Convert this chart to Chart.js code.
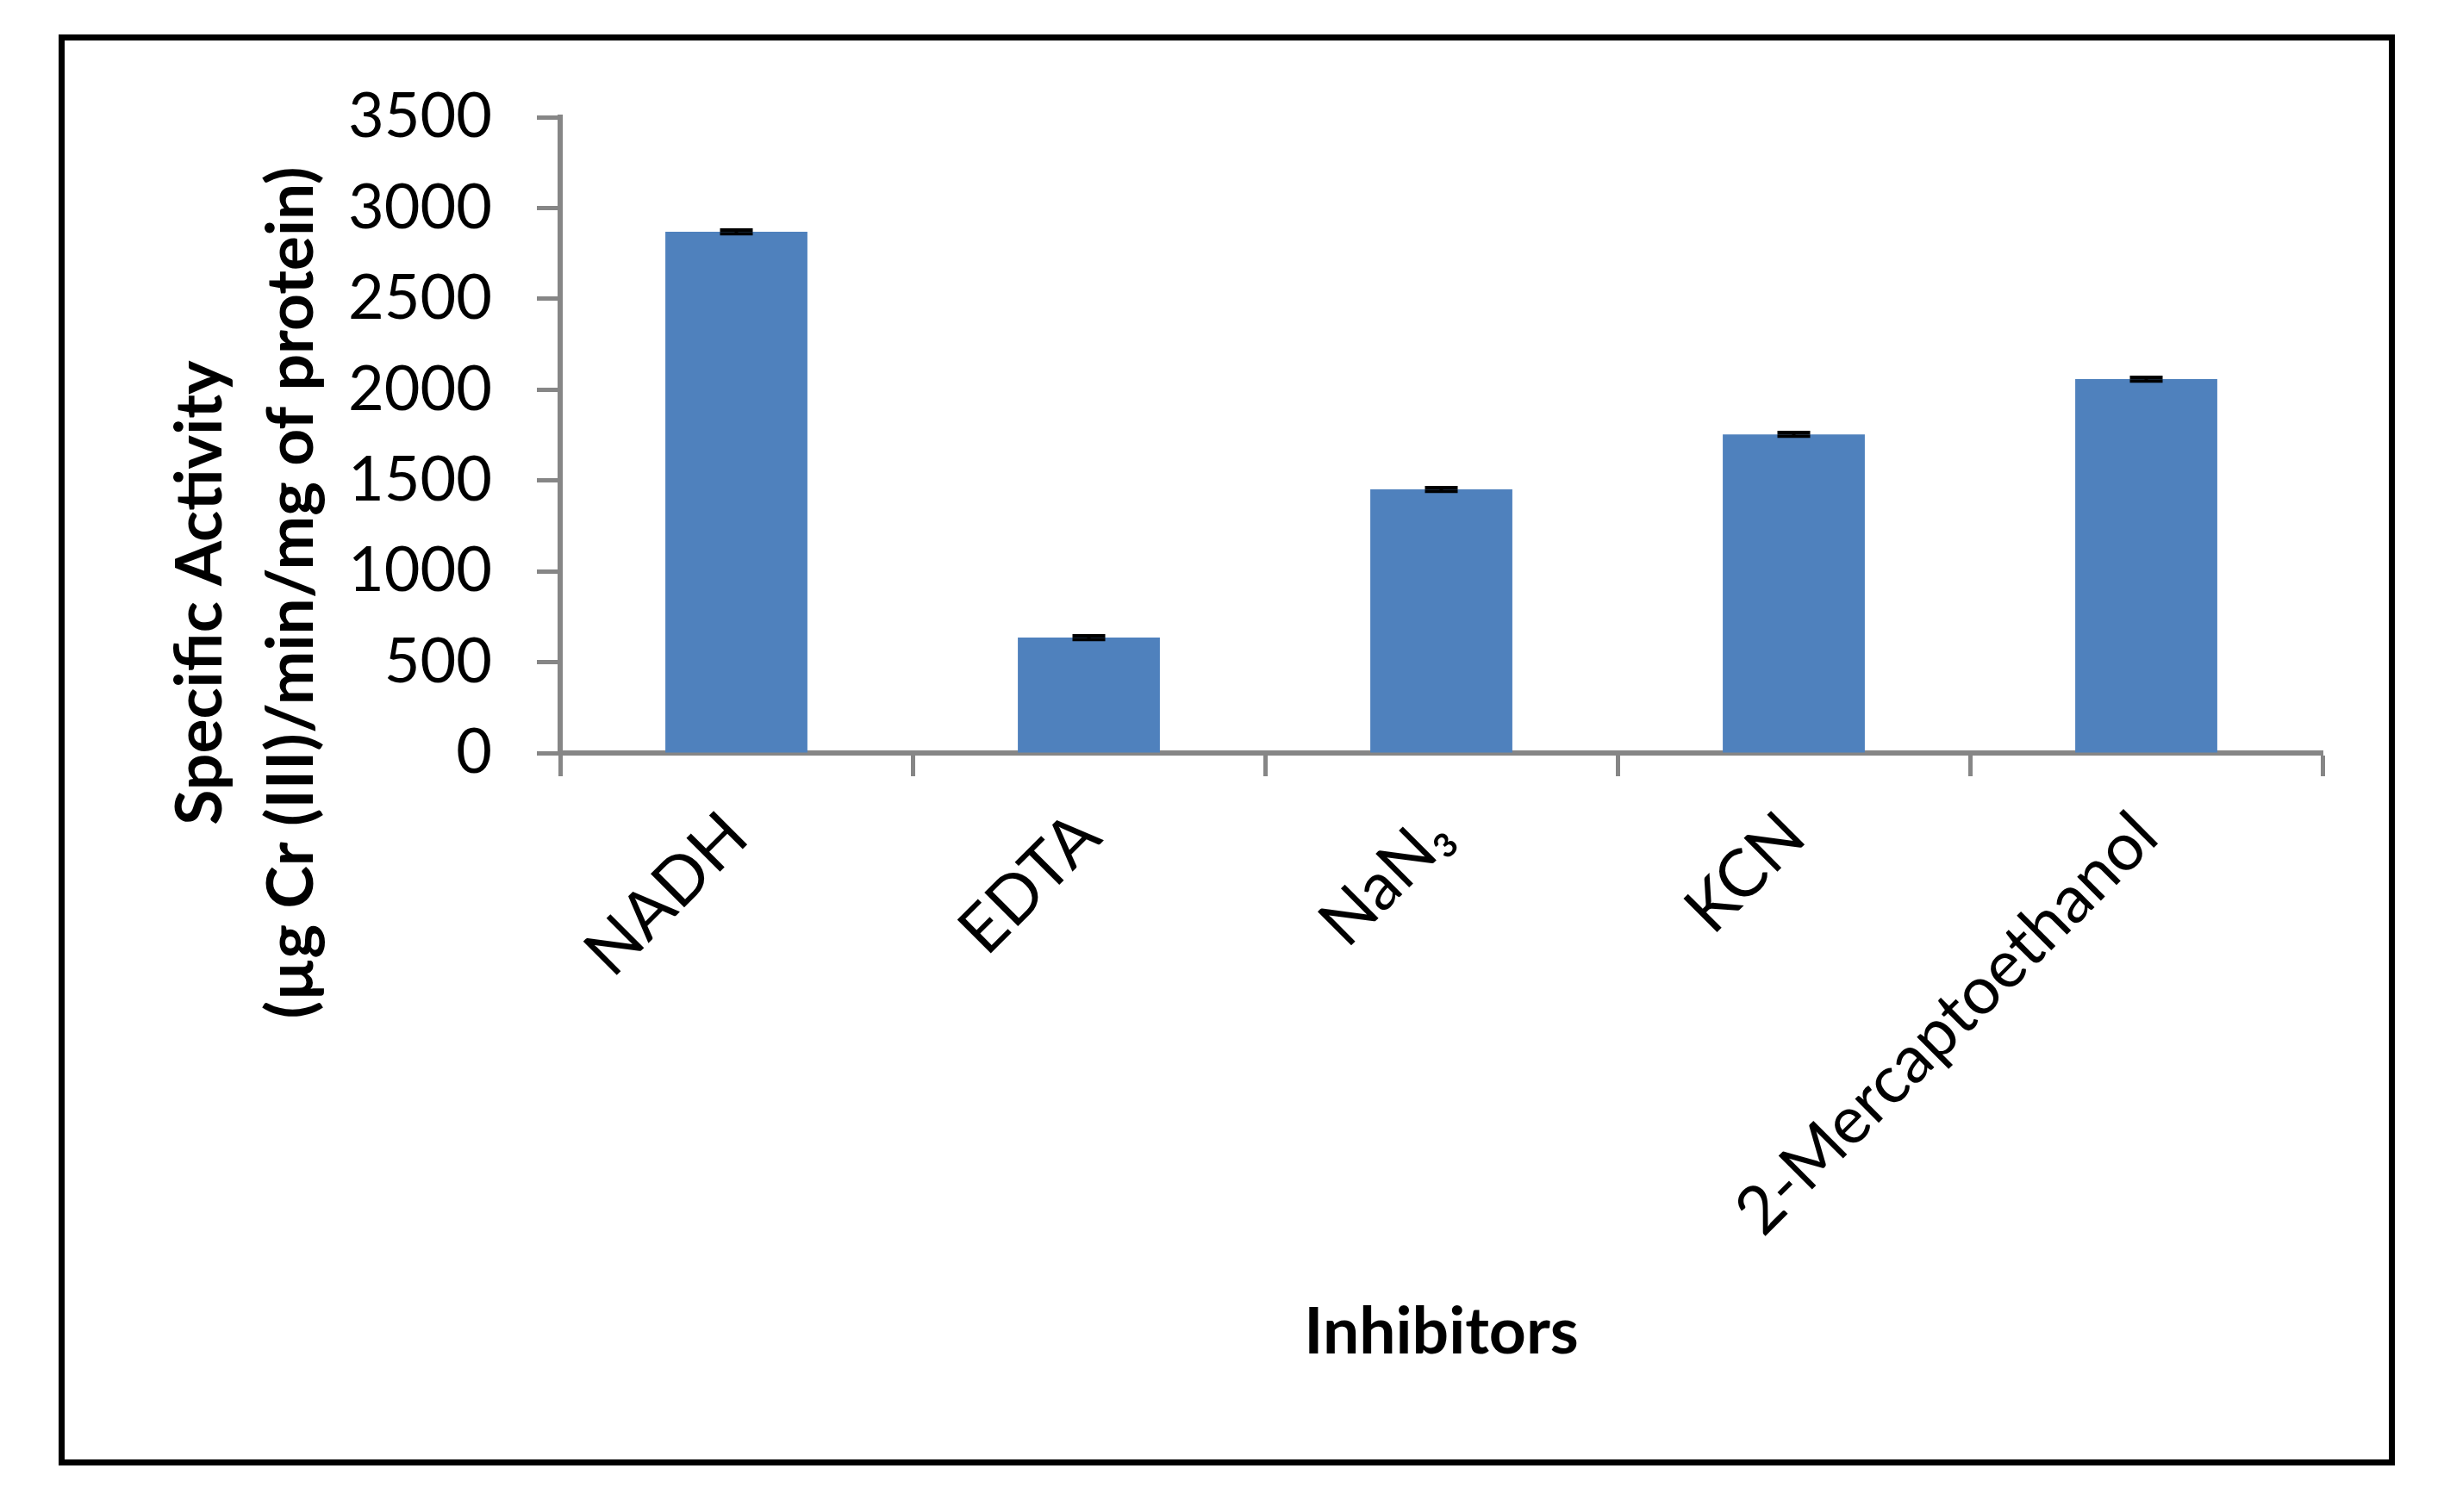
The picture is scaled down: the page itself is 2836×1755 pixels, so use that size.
<!DOCTYPE html>
<html>
<head>
<meta charset="utf-8">
<script src="https://cdn.jsdelivr.net/npm/chart.js@4.4.0/dist/chart.umd.min.js"></script>
<style>
  html, body { margin: 0; padding: 0; background: #fff; }
  #wrap { position: relative; width: 2836px; height: 1755px; }
  #frame { position: absolute; left: 68px; top: 40px; width: 2697px; height: 1647px; border: 7px solid #000; pointer-events: none; }
</style>
</head>
<body>
<div id="wrap">
  <canvas id="activityChart" width="2836" height="1755"></canvas>
  <div id="frame"></div>
</div>
<script>
// data
const categories = ['NADH', 'EDTA', 'NaN₃', 'KCN', '2-Mercaptoethanol'];
const activity = [2869, 635, 1451, 1754, 2058];
const activityErr = [10, 10, 10, 10, 10];
const yTicks = [0, 500, 1000, 1500, 2000, 2500, 3000, 3500];
const yTitleLines = ['Specific Activity', '(µg Cr (III)/min/mg of protein)'];
const xTitle = 'Inhibitors';

const AXIS_GRAY = '#868686';
const BAR_BLUE = '#4F81BD';

// error bars on top of the bars
const errorBars = {
    id: 'errorBars',
    afterDatasetsDraw(chart) {
        const ctx = chart.ctx;
        const y = chart.scales.y;
        const meta = chart.getDatasetMeta(0);
        ctx.save();
        ctx.strokeStyle = '#000';
        ctx.lineWidth = 4;
        meta.data.forEach((bar, i) => {
            const hi = y.getPixelForValue(activity[i] + activityErr[i]);
            const lo = y.getPixelForValue(activity[i] - activityErr[i]);
            ctx.beginPath();
            ctx.moveTo(bar.x, hi); ctx.lineTo(bar.x, lo);
            ctx.moveTo(bar.x - 19, hi); ctx.lineTo(bar.x + 19, hi);
            ctx.moveTo(bar.x - 19, lo); ctx.lineTo(bar.x + 19, lo);
            ctx.stroke();
        });
        ctx.restore();
    }
};

// two-line y title, placed like the excel one (lower than axis centre)
const yTitle = {
    id: 'yTitle',
    afterDraw(chart) {
        const ctx = chart.ctx;
        const area = chart.chartArea;
        const cy = (area.top + area.bottom) / 2 + 183;
        const xs = [area.left - 393, area.left - 287];
        ctx.save();
        ctx.fillStyle = '#000';
        ctx.font = 'bold 75px Lato';
        ctx.textAlign = 'center';
        ctx.textBaseline = 'alphabetic';
        yTitleLines.forEach((line, i) => {
            ctx.save();
            ctx.translate(xs[i], cy);
            ctx.rotate(-Math.PI / 2);
            ctx.fillText(line, 0, 0);
            ctx.restore();
        });
        ctx.restore();
    }
};

new Chart(document.getElementById('activityChart'), {
    type: 'bar',
    data: {
        labels: categories,
        datasets: [{
            data: activity,
            backgroundColor: BAR_BLUE,
            borderWidth: 0,
            categoryPercentage: 1,
            barPercentage: 0.403
        }]
    },
    options: {
        responsive: false,
        animation: false,
        devicePixelRatio: 1,
        layout: { padding: { top: 136, right: 141, left: 0, bottom: 0 } },
        plugins: { legend: { display: false }, tooltip: { enabled: false } },
        scales: {
            x: {
                offset: true,
                grid: { offset: true, drawOnChartArea: false, tickLength: 27, tickWidth: 5, tickColor: AXIS_GRAY },
                border: { color: AXIS_GRAY, width: 6 },
                ticks: {
                    color: '#000', font: { family: 'Lato', size: 77 },
                    minRotation: 45, maxRotation: 45, padding: 24, autoSkip: false
                },
                title: {
                    display: true, text: xTitle, color: '#000',
                    font: { family: 'Lato', size: 75, weight: 'bold' },
                    padding: { top: 0, bottom: 163 }
                },
                afterFit: s => { s.height = 881; }
            },
            y: {
                min: 0,
                max: 3500,
                afterBuildTicks: s => { s.ticks = yTicks.map(v => ({ value: v })); },
                grid: { drawOnChartArea: false, tickLength: 27, tickWidth: 5, tickColor: AXIS_GRAY },
                border: { color: AXIS_GRAY, width: 6 },
                ticks: {
                    color: '#000', font: { family: 'Lato', size: 72 }, padding: 52,
                    callback: v => String(v)
                },
                afterFit: s => { s.width = 650; }
            }
        }
    },
    plugins: [errorBars, yTitle]
});
</script>
</body>
</html>
